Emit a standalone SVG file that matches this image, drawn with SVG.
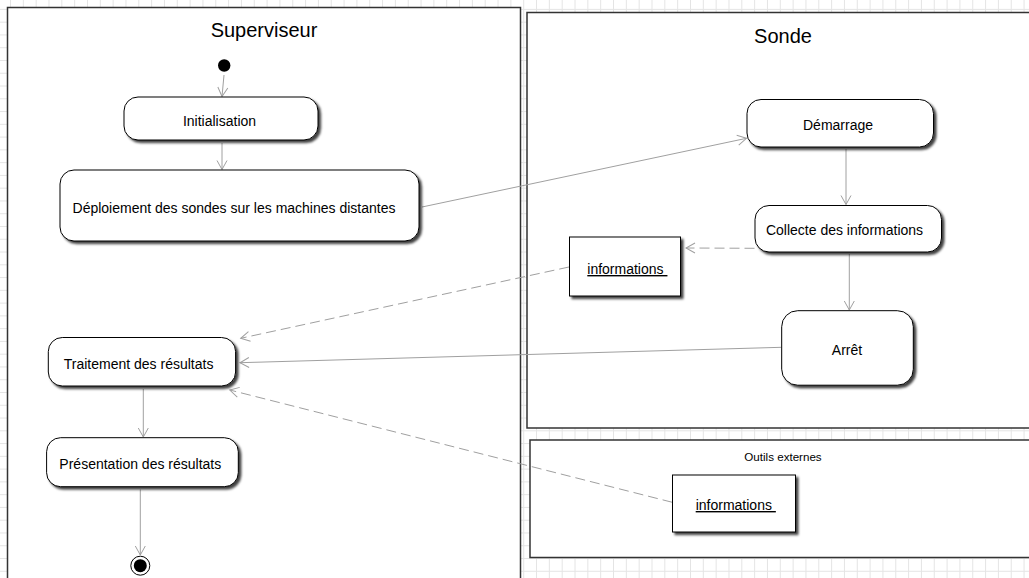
<svg xmlns="http://www.w3.org/2000/svg" width="1029" height="578" viewBox="0 0 1029 578">
<style>
text{font-family:"Liberation Sans",Arial,sans-serif;fill:#000}
.lbl{font-size:14px;text-anchor:middle}
.ttl{font-size:20px;text-anchor:middle}
.obj{font-size:14px;text-decoration:underline}
.frame{fill:#fff;stroke:#333;stroke-width:1.5}
.act{fill:#fff;stroke:#000;stroke-width:1;filter:url(#sh)}
.flow{fill:none;stroke:#a0a0a0;stroke-width:1;marker-end:url(#ah)}
.dash{stroke-dasharray:10 5}
</style>
<defs>
<pattern id="grid" patternUnits="userSpaceOnUse" x="10" y="8.9" width="12.83" height="12.77">
<path d="M0.5 0V12.77M0 0.5H12.83" stroke="#e4e4e4" stroke-width="1" fill="none"/>
</pattern>
<filter id="sh" x="-10%" y="-10%" width="130%" height="140%">
<feDropShadow dx="2.5" dy="2.5" stdDeviation="1" flood-color="#000" flood-opacity="0.75"/>
</filter>
<marker id="ah" markerUnits="userSpaceOnUse" markerWidth="14" markerHeight="14" refX="0" refY="0" viewBox="-11 -7 14 14" orient="auto">
<path d="M-9,-5 L0,0 L-9,5" fill="none" stroke="#a0a0a0" stroke-width="1"/>
</marker>
</defs>
<rect width="1029" height="578" fill="#fff"/>
<rect width="1029" height="578" fill="url(#grid)"/>

<g id="frame-superviseur">
<rect class="frame" x="7.5" y="7.5" width="513" height="600"/>
<text class="ttl" x="264" y="37">Superviseur</text>
</g>
<g id="frame-sonde">
<rect class="frame" x="527" y="12.5" width="520" height="415.5"/>
<text class="ttl" x="783" y="43">Sonde</text>
</g>
<g id="frame-outils">
<rect class="frame" x="530" y="440" width="520" height="117.5"/>
<text x="783" y="461" font-size="11.6" text-anchor="middle">Outils externes</text>
</g>

<g id="connectors">
<path class="flow" d="M224,75 L222,96.5"/>
<path class="flow" d="M222,143 L222,169.5"/>
<path class="flow" d="M422,207 L746.5,138.3"/>
<path class="flow" d="M846,149 L846,204.5"/>
<path class="flow" d="M849.3,254 L849.3,310"/>
<path class="flow dash" d="M754.5,248.3 L686,248"/>
<path class="flow dash" d="M569,267 L240.7,338.3"/>
<path class="flow" d="M781.5,347.3 L240,362.7"/>
<path class="flow dash" d="M672.3,502.3 L229.8,390"/>
<path class="flow" d="M143.3,389 L143.3,437"/>
<path class="flow" d="M140.3,489.5 L140.3,555"/>
</g>

<g id="start">
<circle cx="224.2" cy="65.5" r="6.2" fill="#000"/>
</g>
<g id="initialisation">
<rect class="act" x="124" y="97" width="194" height="43" rx="14"/>
<text class="lbl" x="219.5" y="126">Initialisation</text>
</g>
<g id="deploiement">
<rect class="act" x="60" y="170" width="359" height="71" rx="14"/>
<text class="lbl" x="234" y="213">Déploiement des sondes sur les machines distantes</text>
</g>
<g id="traitement">
<rect class="act" x="48.3" y="337.5" width="187.3" height="48.5" rx="14"/>
<text class="lbl" x="138.6" y="368.5">Traitement des résultats</text>
</g>
<g id="presentation">
<rect class="act" x="46.6" y="437.7" width="191.7" height="49" rx="14"/>
<text class="lbl" x="140.3" y="468.5">Présentation des résultats</text>
</g>
<g id="final">
<circle cx="140.3" cy="565.7" r="9.5" fill="#fff" stroke="#000" stroke-width="1"/>
<circle cx="140.3" cy="565.7" r="6.5" fill="#000"/>
</g>
<g id="demarrage">
<rect class="act" x="747" y="99.5" width="186.5" height="47.5" rx="14"/>
<text class="lbl" x="838" y="130">Démarrage</text>
</g>
<g id="collecte">
<rect class="act" x="755" y="205.5" width="186.5" height="46.5" rx="14"/>
<text class="lbl" x="844.5" y="235">Collecte des informations</text>
</g>
<g id="arret">
<rect class="act" x="781.7" y="310.7" width="131.6" height="74.5" rx="16"/>
<text class="lbl" x="847" y="355">Arrêt</text>
</g>
<g id="informations-sonde">
<rect class="act" x="569.5" y="237" width="111" height="59"/>
<text class="obj" x="587.3" y="274" xml:space="preserve">informations </text>
</g>
<g id="informations-outils">
<rect class="act" x="672.5" y="475" width="123" height="57"/>
<text class="obj" x="695.7" y="510" xml:space="preserve">informations </text>
</g>
</svg>
